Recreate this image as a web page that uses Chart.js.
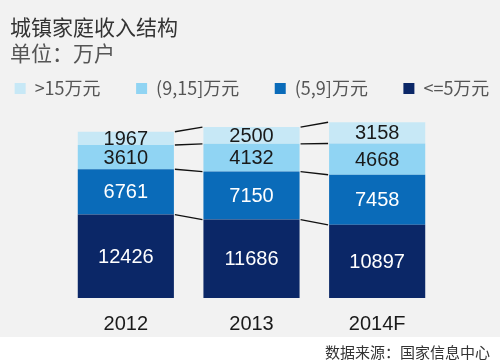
<!DOCTYPE html>
<html>
<head>
<meta charset="utf-8">
<script src="https://cdn.jsdelivr.net/npm/chart.js@4.4.1/dist/chart.umd.min.js"></script>
<style>
  html, body { margin: 0; padding: 0; background: #ffffff; }
  #wrap { width: 500px; height: 363px; position: relative; }
</style>
</head>
<body>
<div id="wrap"><canvas id="incomeChart" width="500" height="363"></canvas></div>
<script>
// Data (unit: 10k households)
const years = ['2012', '2013', '2014F'];
const seriesNames = ['<=5万元', '(5,9]万元', '(9,15]万元', '>15万元'];
const low = [12426, 11686, 10897];
const midLow = [6761, 7150, 7458];
const midHigh = [3610, 4132, 4668];
const high = [1967, 2500, 3158];

const seriesColors = ['#0b2767', '#0a6bb9', '#90d4f3', '#c7e8f6'];
const labelColors = ['#ffffff', '#ffffff', '#1a1a1a', '#1a1a1a'];

const BG_GREY = '#f2f2f2';
const SOURCE_TEXT = '数据来源：国家信息中心';

// grey panel + white footer strip with source note
const backdropPlugin = {
    id: 'backdrop',
    beforeDraw(chart) {
        const ctx = chart.ctx;
        ctx.save();
        ctx.fillStyle = BG_GREY;
        ctx.fillRect(0, 0, chart.width, 337);
        ctx.fillStyle = '#ffffff';
        ctx.fillRect(0, 337, chart.width, chart.height - 337);
        ctx.restore();
    },
    afterDraw(chart) {
        const ctx = chart.ctx;
        ctx.save();
        ctx.font = '15px "Noto Sans CJK SC"';
        ctx.fillStyle = '#333333';
        ctx.textAlign = 'right';
        ctx.textBaseline = 'middle';
        ctx.fillText(SOURCE_TEXT, 490, 352);
        ctx.restore();
    }
};

// thin black lines joining segment boundaries of neighbouring bars
const connectorPlugin = {
    id: 'connectors',
    afterDatasetsDraw(chart) {
        const ctx = chart.ctx;
        ctx.save();
        ctx.strokeStyle = '#111111';
        ctx.lineWidth = 1.4;
        chart.data.datasets.forEach((ds, d) => {
            const bars = chart.getDatasetMeta(d).data;
            for (let i = 0; i < bars.length - 1; i++) {
                const a = bars[i], b = bars[i + 1];
                ctx.beginPath();
                ctx.moveTo(a.x + a.width / 2 + 1, a.y);
                ctx.lineTo(b.x - b.width / 2 - 1, b.y);
                ctx.stroke();
            }
        });
        ctx.restore();
    }
};

// value labels centred in each segment
const valueLabelPlugin = {
    id: 'valueLabels',
    afterDatasetsDraw(chart) {
        const ctx = chart.ctx;
        ctx.save();
        ctx.font = '20px "Liberation Sans", Arial, sans-serif';
        ctx.textAlign = 'center';
        ctx.textBaseline = 'middle';
        chart.data.datasets.forEach((ds, d) => {
            ctx.fillStyle = labelColors[d];
            chart.getDatasetMeta(d).data.forEach((bar, i) => {
                ctx.fillText(String(ds.data[i]), bar.x, (bar.y + bar.base) / 2 + 1);
            });
        });
        ctx.restore();
    }
};

const seriesData = [low, midLow, midHigh, high];

// invisible side axes that only reserve room so the bars sit where they should
const spacerAxis = (pos, w) => ({
    position: pos,
    display: true,
    grid: { display: false },
    border: { display: false },
    ticks: { display: false },
    afterFit(scale) { scale.width = w; }
});

new Chart(document.getElementById('incomeChart'), {
    type: 'bar',
    data: {
        labels: years,
        datasets: seriesData.map((vals, d) => ({
            label: seriesNames[d],
            data: vals,
            backgroundColor: seriesColors[d],
            borderWidth: 0,
            barPercentage: 0.765,
            categoryPercentage: 1.0
        }))
    },
    options: {
        responsive: false,
        animation: false,
        devicePixelRatio: 1,
        layout: {
            padding: { left: 10, right: 6, top: 0, bottom: 21 }
        },
        scales: {
            x: {
                stacked: true,
                grid: { display: false },
                border: { display: false },
                ticks: {
                    color: '#1a1a1a',
                    padding: 6,
                    font: { family: '"Liberation Sans", Arial, sans-serif', size: 20 }
                }
            },
            y: Object.assign(spacerAxis('left', 53), { stacked: true, min: 0, max: 28400 }),
            yRight: spacerAxis('right', 54)
        },
        plugins: {
            title: {
                display: true,
                text: '城镇家庭收入结构',
                align: 'start',
                color: '#333333',
                font: { family: '"Noto Sans CJK SC"', size: 21, weight: 'normal' },
                padding: { top: 14, bottom: 0 }
            },
            subtitle: {
                display: true,
                text: '单位：万户',
                align: 'start',
                color: '#555555',
                font: { family: '"Noto Sans CJK SC"', size: 21, weight: 'normal' },
                padding: { top: 1, bottom: 10 }
            },
            legend: {
                display: true,
                position: 'top',
                reverse: true,
                labels: {
                    color: '#555555',
                    boxWidth: 11,
                    boxHeight: 11,
                    padding: 4,
                    font: { family: '"Noto Sans CJK SC"', size: 18 },
                    generateLabels(chart) {
                        const items = Chart.defaults.plugins.legend.labels.generateLabels(chart);
                        // widen the gap after each item except the last one shown (dataset 0)
                        items.forEach(it => {
                            if (it.datasetIndex !== 0) it.text = it.text + '\u3000\u2002\u2005';
                        });
                        return items;
                    }
                }
            },
            tooltip: { enabled: false }
        }
    },
    plugins: [backdropPlugin, connectorPlugin, valueLabelPlugin]
});
</script>
</body>
</html>
